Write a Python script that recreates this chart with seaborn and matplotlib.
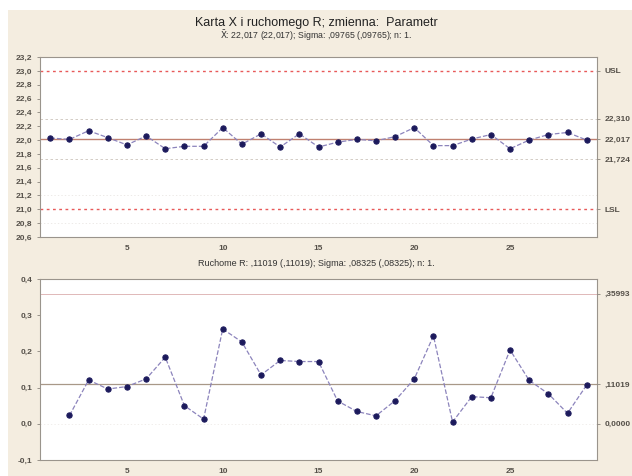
import numpy as np
import pandas as pd
import matplotlib
matplotlib.use("Agg")
import matplotlib.pyplot as plt
import seaborn as sns
from matplotlib.patches import Rectangle

# sample numbers and values
probki = list(range(1, 30))
srednie = [22.03, 22.01, 22.135, 22.035, 21.93, 22.06, 21.875, 21.91, 21.91, 22.18,
           21.94, 22.09, 21.90, 22.09, 21.90, 21.97, 22.01, 21.99, 22.05, 22.18,
           21.92, 21.92, 22.015, 22.08, 21.875, 22.0, 22.08, 22.11, 22.0]
probki_r = list(range(2, 30))
ruchome_r = [0.023, 0.121, 0.096, 0.103, 0.124, 0.184, 0.050, 0.013, 0.262, 0.226,
             0.135, 0.175, 0.172, 0.172, 0.063, 0.034, 0.022, 0.064, 0.124, 0.243,
             0.005, 0.075, 0.072, 0.204, 0.120, 0.083, 0.029, 0.107]

# control / spec lines
x_sr, x_ucl, x_lcl = 22.017, 22.310, 21.724
usl, lsl = 23.0, 21.0
r_sr, r_ucl, r_lcl = 0.11019, 0.35993, 0.0

y_ticks_x = [20.6, 20.8, 21.0, 21.2, 21.4, 21.6, 21.8, 22.0, 22.2, 22.4, 22.6, 22.8, 23.0, 23.2]
y_ticks_r = [-0.1, 0.0, 0.1, 0.2, 0.3, 0.4]
x_ticks = [5, 10, 15, 20, 25]

sns.set_style("white")
plt.rcParams['font.family'] = ['Liberation Sans', 'DejaVu Sans']

bg = "#f4ede0"
pt = "#1c1a5c"
ln = "#8c84bc"
tc = "#555049"
fig = plt.figure(figsize=(6.32, 4.76), dpi=100, facecolor="white")
fig.patches.append(Rectangle((8 / 632, 0), 1, 1 - 10 / 476, transform=fig.transFigure,
                             facecolor=bg, edgecolor="none", zorder=-10))

fig.text(0.5, 1 - 23 / 476, "Karta X i ruchomego R; zmienna:  Parametr",
         ha="center", va="center", fontsize=9, color="#222222")
fig.text(0.5, 1 - 36 / 476, r"$\bar{\mathrm{X}}$: 22,017 (22,017); Sigma: ,09765 (,09765); n: 1.",
         ha="center", va="center", fontsize=6.3, color="#333333")
fig.text(0.5, 1 - 263 / 476, "Ruchome R: ,11019 (,11019); Sigma: ,08325 (,08325); n: 1.",
         ha="center", va="center", fontsize=6.5, color="#333333")

ax1 = fig.add_axes([40 / 632, 1 - 237 / 476, 557 / 632, 180 / 476])
ax2 = fig.add_axes([40 / 632, 1 - 460 / 476, 557 / 632, 181 / 476])


def fmt(v, dec=1):
    return f"{v:.{dec}f}".replace(".", ",")


def style_ticks(ax):
    ax.tick_params(axis="both", labelsize=6, colors="#8a847c", labelcolor=tc,
                   length=2.5, width=0.6, pad=3)
    for lab in ax.get_xticklabels() + ax.get_yticklabels():
        lab.set_fontweight("bold")


for ax in (ax1, ax2):
    ax.set_facecolor("white")
    for s in ax.spines.values():
        s.set_color("#9a948c")
        s.set_linewidth(0.8)
    ax.set_xlim(0.46, 29.54)
    ax.set_xticks(x_ticks)
    ax.set_xticklabels([str(t) for t in x_ticks])

# X chart
ax1.axhline(usl, color="#e85a5a", lw=1.0, ls=(0, (2, 2.5)))
ax1.axhline(lsl, color="#e85a5a", lw=1.0, ls=(0, (2, 2.5)))
ax1.axhline(x_ucl, color="#ccc4bc", lw=0.6, ls=(0, (3, 3)))
ax1.axhline(x_lcl, color="#ccc4bc", lw=0.6, ls=(0, (3, 3)))
ax1.axhline(21.2, color="#e6e2de", lw=0.5, ls=(0, (2, 3)))
ax1.axhline(20.8, color="#e6e2de", lw=0.5, ls=(0, (2, 3)))
ax1.axhline(x_sr, color="#c08070", lw=1.0)
sns.lineplot(x=probki, y=srednie, ax=ax1, color=ln, lw=0.9, linestyle="--",
             marker="o", markersize=3.8, markerfacecolor=pt, markeredgecolor=pt)
ax1.set_ylim(20.6, 23.2)
ax1.set_yticks(y_ticks_x)
ax1.set_yticklabels([fmt(t) for t in y_ticks_x])
ax1.set_xlabel("")
ax1.set_ylabel("")
style_ticks(ax1)

t1 = ax1.twinx()
t1.set_ylim(ax1.get_ylim())
t1.set_yticks([usl, x_ucl, x_sr, x_lcl, lsl])
t1.set_yticklabels(["USL", "22,310", "22,017", "21,724", "LSL"])
style_ticks(t1)
for s in t1.spines.values():
    s.set_visible(False)

# MR chart
ax2.axhline(r_ucl, color="#e0b8b8", lw=0.7)
ax2.axhline(r_sr, color="#a89888", lw=0.9)
ax2.axhline(r_lcl, color="#ece8e4", lw=0.5, ls=(0, (2, 3)))
sns.lineplot(x=probki_r, y=ruchome_r, ax=ax2, color=ln, lw=0.9, linestyle="--",
             marker="o", markersize=3.8, markerfacecolor=pt, markeredgecolor=pt)
ax2.set_ylim(-0.1, 0.4)
ax2.set_yticks(y_ticks_r)
ax2.set_yticklabels([fmt(t) for t in y_ticks_r])
ax2.set_xlabel("")
ax2.set_ylabel("")
style_ticks(ax2)

t2 = ax2.twinx()
t2.set_ylim(ax2.get_ylim())
t2.set_yticks([r_ucl, r_sr, r_lcl])
t2.set_yticklabels([",35993", ",11019", "0,0000"])
style_ticks(t2)
for s in t2.spines.values():
    s.set_visible(False)

fig.savefig("out.png", dpi=100, facecolor=fig.get_facecolor())
